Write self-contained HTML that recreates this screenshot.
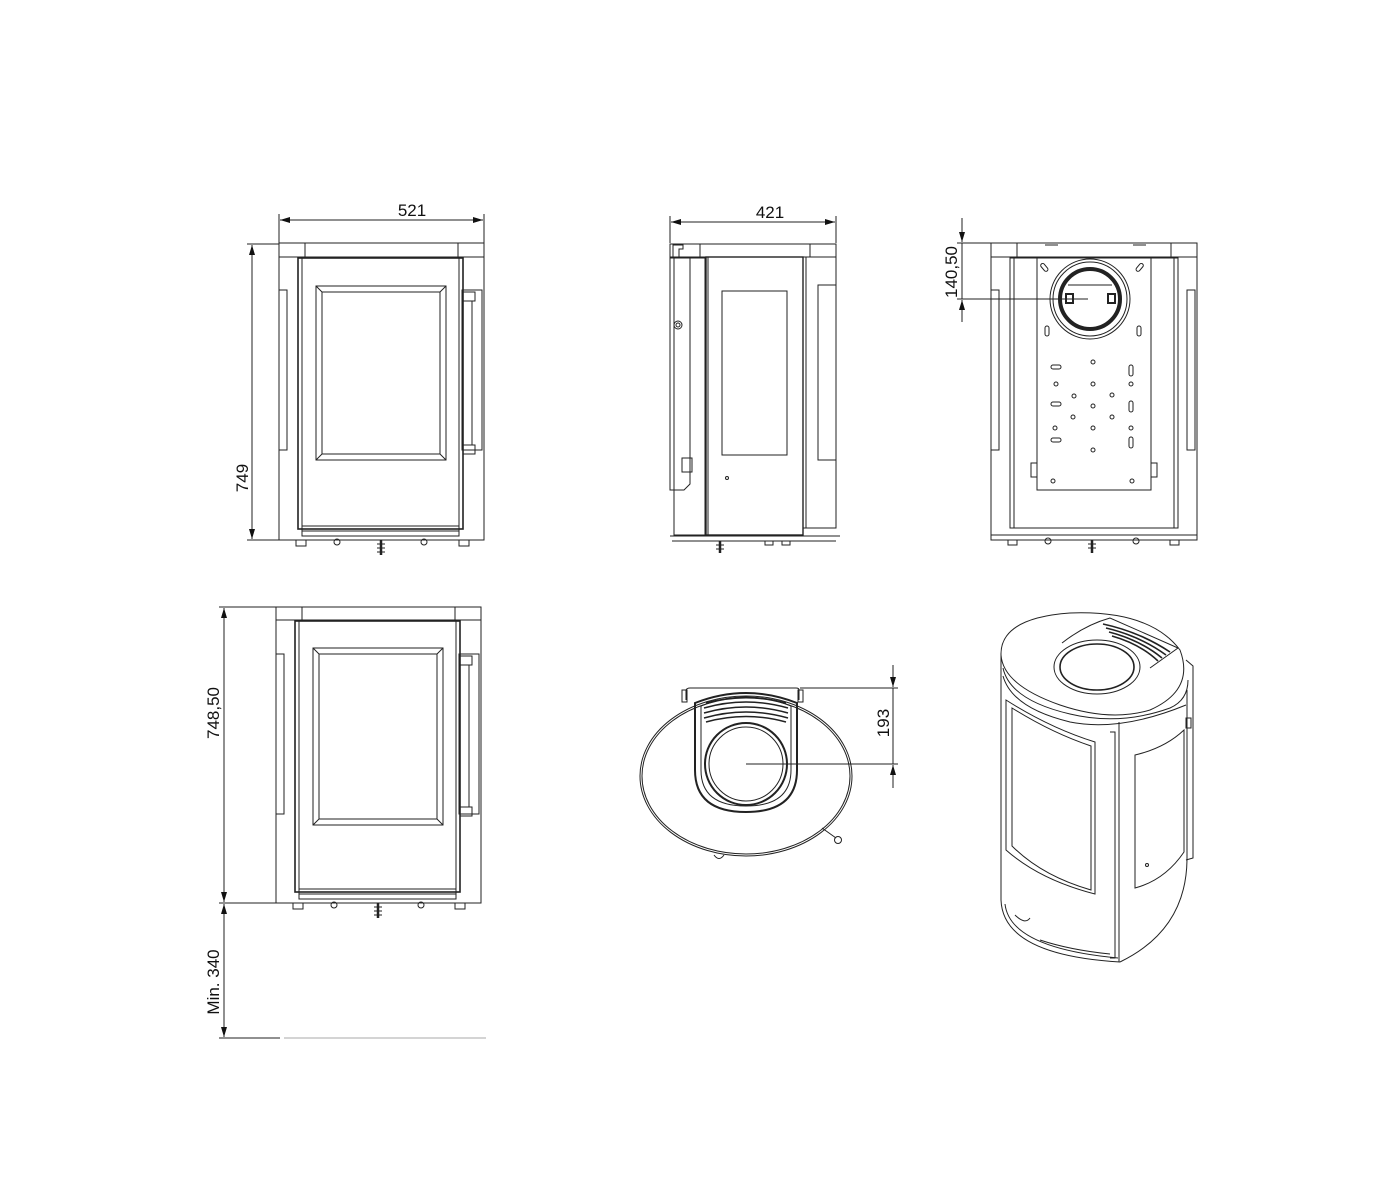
<!DOCTYPE html>
<html><head><meta charset="utf-8"><style>
html,body{margin:0;padding:0;background:#fff;}
svg{display:block;}
text{font-family:"Liberation Sans",sans-serif;font-size:17px;fill:#111;}
</style></head><body>
<svg width="1400" height="1200" viewBox="0 0 1400 1200" xmlns="http://www.w3.org/2000/svg">
<defs>
<marker id="a" viewBox="0 0 10 6" refX="10" refY="3" markerWidth="10" markerHeight="6" orient="auto-start-reverse" markerUnits="userSpaceOnUse"><path d="M0,0 L10,3 L0,6 z" fill="#111"/></marker>
</defs>
<g fill="none" stroke="#222" stroke-width="1">

<!-- ========== FRONT VIEW 1 ========== -->
<line x1="279" y1="214" x2="279" y2="243"/>
<line x1="484" y1="214" x2="484" y2="243"/>
<line x1="280" y1="220" x2="483" y2="220" marker-start="url(#a)" marker-end="url(#a)"/>
<line x1="247" y1="244" x2="279" y2="244"/>
<line x1="247" y1="540" x2="279" y2="540"/>
<line x1="252" y1="245" x2="252" y2="539" marker-start="url(#a)" marker-end="url(#a)"/>
<rect x="279" y="243" width="205" height="14"/>
<line x1="305" y1="243" x2="305" y2="257"/><line x1="458" y1="243" x2="458" y2="257"/>
<rect x="279" y="257" width="205" height="283"/>
<rect x="298" y="258" width="165" height="271" stroke-width="1.6"/>
<line x1="302" y1="258" x2="302" y2="529"/><line x1="459" y1="258" x2="459" y2="529"/>
<rect x="316" y="286" width="130" height="174"/>
<rect x="322" y="292" width="118" height="162"/>
<line x1="316" y1="286" x2="322" y2="292"/><line x1="446" y1="286" x2="440" y2="292"/>
<line x1="316" y1="460" x2="322" y2="454"/><line x1="446" y1="460" x2="440" y2="454"/>
<rect x="279" y="290" width="8" height="160"/>
<rect x="462" y="290" width="20" height="160"/>
<rect x="463" y="292" width="12" height="9"/><rect x="463" y="445" width="12" height="9"/>
<line x1="472" y1="301" x2="472" y2="445"/>
<rect x="302" y="526" width="157" height="10"/>
<line x1="302" y1="531" x2="459" y2="531"/>
<line x1="279" y1="540" x2="484" y2="540"/>
<rect x="296" y="540" width="10" height="6"/><rect x="459" y="540" width="10" height="6"/>
<circle cx="337" cy="542" r="3"/><circle cx="424" cy="542" r="3"/>
<line x1="381" y1="540" x2="381" y2="555" stroke-width="2.5"/>
<line x1="377" y1="544" x2="385" y2="544"/><line x1="377" y1="548" x2="385" y2="548"/><line x1="377" y1="552" x2="385" y2="552"/>

<!-- ========== FRONT VIEW 2 ========== -->
<line x1="219" y1="607" x2="276" y2="607"/>
<line x1="219" y1="903" x2="276" y2="903"/>
<line x1="224" y1="608" x2="224" y2="902" marker-start="url(#a)" marker-end="url(#a)"/>
<line x1="224" y1="904" x2="224" y2="1037" marker-start="url(#a)" marker-end="url(#a)"/>
<line x1="219" y1="1038" x2="280" y2="1038"/>
<line x1="284" y1="1038" x2="486" y2="1038" stroke="#aaa"/>
<rect x="276" y="607" width="205" height="13"/>
<line x1="302" y1="607" x2="302" y2="620"/><line x1="455" y1="607" x2="455" y2="620"/>
<rect x="276" y="620" width="205" height="283"/>
<rect x="295" y="621" width="165" height="271" stroke-width="1.6"/>
<line x1="299" y1="621" x2="299" y2="892"/><line x1="456" y1="621" x2="456" y2="892"/>
<rect x="313" y="648" width="130" height="177"/>
<rect x="319" y="654" width="118" height="165"/>
<line x1="313" y1="648" x2="319" y2="654"/><line x1="443" y1="648" x2="437" y2="654"/>
<line x1="313" y1="825" x2="319" y2="819"/><line x1="443" y1="825" x2="437" y2="819"/>
<rect x="276" y="654" width="8" height="160"/>
<rect x="459" y="654" width="20" height="160"/>
<rect x="460" y="656" width="12" height="9"/><rect x="460" y="807" width="12" height="9"/>
<line x1="469" y1="665" x2="469" y2="807"/>
<rect x="299" y="889" width="157" height="10"/>
<line x1="299" y1="894" x2="456" y2="894"/>
<line x1="276" y1="903" x2="481" y2="903"/>
<rect x="293" y="903" width="10" height="6"/><rect x="455" y="903" width="10" height="6"/>
<circle cx="334" cy="905" r="3"/><circle cx="421" cy="905" r="3"/>
<line x1="378" y1="903" x2="378" y2="918" stroke-width="2.5"/>
<line x1="374" y1="907" x2="382" y2="907"/><line x1="374" y1="911" x2="382" y2="911"/><line x1="374" y1="915" x2="382" y2="915"/>

<!-- ========== SIDE VIEW ========== -->
<line x1="670" y1="216" x2="670" y2="243"/>
<line x1="836" y1="216" x2="836" y2="243"/>
<line x1="671" y1="222" x2="835" y2="222" marker-start="url(#a)" marker-end="url(#a)"/>
<path d="M673,257 L673,245 L683,245 L683,249 L679,249 L679,257"/>
<rect x="670" y="244" width="166" height="13"/>
<line x1="700" y1="244" x2="700" y2="257"/><line x1="810" y1="244" x2="810" y2="257"/>
<path d="M670,258 L670,490 L684,490 L690,484 L690,258 Z"/>
<rect x="674" y="258" width="31" height="277"/>
<circle cx="678" cy="325" r="4"/><circle cx="678" cy="325" r="2"/>
<rect x="682" y="458" width="10" height="14"/>
<rect x="706" y="257" width="97" height="278" stroke-width="1.4"/>
<line x1="708" y1="257" x2="708" y2="535"/>
<rect x="722" y="291" width="65" height="164"/>
<circle cx="727" cy="478" r="1.5"/>
<rect x="803" y="257" width="33" height="271"/>
<line x1="806" y1="257" x2="806" y2="528"/>
<path d="M836,285 L818,285 L818,460 L836,460"/>
<line x1="670" y1="536" x2="840" y2="536"/><line x1="672" y1="541" x2="836" y2="541"/>
<line x1="720" y1="541" x2="720" y2="553" stroke-width="2.5"/>
<line x1="716" y1="545" x2="724" y2="545"/><line x1="716" y1="549" x2="724" y2="549"/>
<rect x="765" y="541" width="8" height="4"/><rect x="782" y="541" width="8" height="4"/>

<!-- ========== BACK VIEW ========== -->
<line x1="957" y1="243" x2="991" y2="243"/>
<line x1="957" y1="299" x2="1088" y2="299"/>
<line x1="962" y1="218" x2="962" y2="242" marker-end="url(#a)"/>
<line x1="962" y1="322" x2="962" y2="300" marker-end="url(#a)"/>
<line x1="962" y1="243" x2="962" y2="299"/>
<rect x="991" y="243" width="206" height="14"/>
<line x1="1017" y1="243" x2="1017" y2="257"/><line x1="1171" y1="243" x2="1171" y2="257"/>
<path d="M1045,245 L1058,245 M1133,245 L1146,245"/>
<rect x="991" y="257" width="206" height="283"/>
<rect x="1010" y="258" width="168" height="270"/>
<line x1="1014" y1="258" x2="1014" y2="528"/><line x1="1174" y1="258" x2="1174" y2="528"/>
<rect x="991" y="290" width="8" height="160"/><rect x="1187" y="290" width="8" height="160"/>
<rect x="1037" y="258" width="114" height="232"/>
<circle cx="1090" cy="299" r="40"/><circle cx="1090" cy="299" r="37"/>
<circle cx="1090" cy="299" r="30" stroke-width="4"/>
<line x1="1068" y1="285" x2="1112" y2="285"/>
<rect x="1066" y="294" width="7" height="9" stroke-width="2"/><rect x="1108" y="294" width="7" height="9" stroke-width="2"/>
<rect x="1042" y="263" width="4" height="9" rx="2" transform="rotate(-40 1044 267)"/>
<rect x="1138" y="263" width="4" height="9" rx="2" transform="rotate(40 1140 267)"/>
<rect x="1045" y="326" width="4" height="10" rx="2"/><rect x="1137" y="326" width="4" height="10" rx="2"/>
<rect x="1051" y="365" width="10" height="4" rx="2"/><rect x="1051" y="402" width="10" height="4" rx="2"/><rect x="1051" y="438" width="10" height="4" rx="2"/>
<rect x="1129" y="365" width="4" height="11" rx="2"/><rect x="1129" y="401" width="4" height="11" rx="2"/><rect x="1129" y="437" width="4" height="11" rx="2"/>
<circle cx="1093" cy="362" r="2"/><circle cx="1093" cy="384" r="2"/><circle cx="1093" cy="406" r="2"/><circle cx="1093" cy="428" r="2"/><circle cx="1093" cy="450" r="2"/>
<circle cx="1056" cy="384" r="2"/><circle cx="1131" cy="384" r="2"/><circle cx="1074" cy="396" r="2"/><circle cx="1112" cy="395" r="2"/>
<circle cx="1073" cy="417" r="2"/><circle cx="1112" cy="417" r="2"/><circle cx="1055" cy="428" r="2"/><circle cx="1131" cy="428" r="2"/>
<circle cx="1053" cy="481" r="2"/><circle cx="1132" cy="481" r="2"/>
<rect x="1031" y="463" width="6" height="14"/><rect x="1151" y="463" width="6" height="14"/>
<line x1="991" y1="535" x2="1197" y2="535"/>
<rect x="1008" y="540" width="9" height="5"/><rect x="1170" y="540" width="9" height="5"/>
<circle cx="1048" cy="541" r="3"/><circle cx="1136" cy="541" r="3"/>
<line x1="1092" y1="540" x2="1092" y2="553" stroke-width="2.5"/>
<line x1="1088" y1="544" x2="1096" y2="544"/><line x1="1088" y1="548" x2="1096" y2="548"/>

<!-- ========== TOP VIEW ========== -->
<line x1="800" y1="688" x2="898" y2="688"/>
<line x1="746" y1="764" x2="898" y2="764"/>
<line x1="893" y1="665" x2="893" y2="687" marker-end="url(#a)"/>
<line x1="893" y1="788" x2="893" y2="765" marker-end="url(#a)"/>
<line x1="893" y1="688" x2="893" y2="764"/>
<ellipse cx="746" cy="776" rx="106" ry="80"/>
<ellipse cx="746" cy="776" rx="104" ry="78"/>
<path d="M686,700 L686,690 Q687,688 690,688 L796,688 Q799,688 799,690 L799,700"/>
<rect x="682" y="690" width="5" height="12"/><rect x="798" y="690" width="5" height="12"/>
<path d="M695,703 L695,770 Q695,812 746,812 Q797,812 797,770 L797,703 Q746,683 695,703 Z" stroke-width="2"/>
<path d="M701,706 L701,770 Q701,806 746,806 Q791,806 791,770 L791,706 Q746,688 701,706 Z"/>
<path d="M706,703 Q746,692 786,703 M704,708 Q746,696 788,708 M704,713 Q746,701 788,713 M704,718 Q746,706 788,718 M706,722 Q746,711 786,722" stroke-width="1.5"/>
<circle cx="746" cy="764" r="41" stroke-width="2"/><circle cx="746" cy="764" r="37"/>
<line x1="822" y1="828" x2="836" y2="838"/><circle cx="838" cy="840" r="3.5"/>
<path d="M714,855 Q719,862 724,855"/>

<!-- ========== 3D VIEW ========== -->
<!-- top outline -->
<path d="M1001,655 Q1000,618 1070,613 Q1150,610 1180,650 Q1195,690 1150,710 Q1110,722 1060,705 Q1003,685 1001,655 Z"/>
<path d="M1003,668 Q1010,700 1070,714 Q1120,726 1170,708 Q1188,700 1188,680"/>
<path d="M1003,676 Q1012,708 1070,722 Q1120,732 1186,705"/>
<!-- collar -->
<path d="M1062,643 Q1085,625 1110,618 L1178,648 L1150,668"/>
<path d="M1103,624 Q1140,632 1170,652 M1106,628 Q1140,636 1166,655 M1109,632 Q1140,640 1162,658 M1112,636 Q1140,644 1158,661" stroke-width="1.6"/>
<ellipse cx="1097" cy="667" rx="43" ry="27"/>
<ellipse cx="1097" cy="667" rx="37" ry="23" stroke-width="1.6"/>
<!-- body -->
<line x1="1001" y1="655" x2="1001" y2="900"/>
<path d="M1001,900 Q1003,955 1120,962"/>
<path d="M1005,904 Q1010,948 1118,958"/>
<path d="M1186,660 L1193,666 L1193,858 L1186,860"/>
<path d="M1187,690 L1187,860 Q1186,930 1120,962"/>
<line x1="1119" y1="722" x2="1119" y2="962"/>
<path d="M1110,732 L1115,732 L1115,958 L1110,958"/>
<path d="M1006,700 Q1050,728 1095,742 L1095,894 Q1040,880 1006,850 Z"/>
<path d="M1012,708 Q1052,733 1091,746 L1091,890 Q1042,876 1012,846 Z"/>
<path d="M1135,755 Q1165,748 1184,730 L1184,852 Q1165,880 1135,888 Z"/>
<circle cx="1147" cy="865" r="1.5"/>
<path d="M1015,915 Q1025,925 1030,918"/>
<path d="M1040,940 Q1070,950 1110,954"/>
<rect x="1186" y="718" width="5" height="10"/>
</g>

<!-- ========== TEXT ========== -->
<text x="412" y="216" text-anchor="middle">521</text>
<text x="770" y="218" text-anchor="middle">421</text>
<text transform="translate(248,478) rotate(-90)" text-anchor="middle">749</text>
<text transform="translate(957,272) rotate(-90)" text-anchor="middle">140,50</text>
<text transform="translate(219,713) rotate(-90)" text-anchor="middle">748,50</text>
<text transform="translate(219,982) rotate(-90)" text-anchor="middle">Min. 340</text>
<text transform="translate(889,723) rotate(-90)" text-anchor="middle">193</text>
</svg>
</body></html>
